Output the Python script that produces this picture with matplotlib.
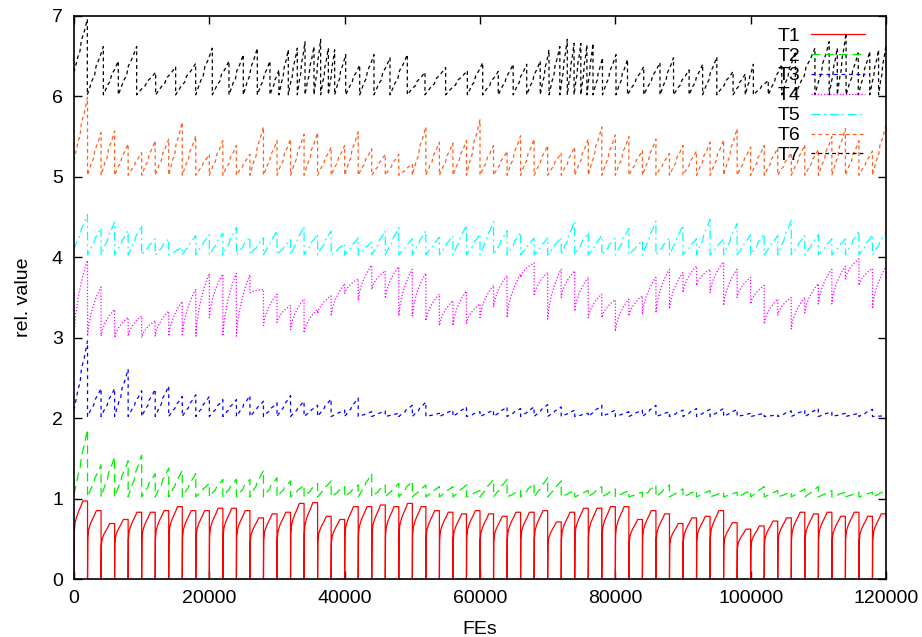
import numpy as np
import matplotlib
matplotlib.use('Agg')
import matplotlib.pyplot as plt

# restart points (FEs): T1..T6 restart every 2000 FEs
ends_2k = [2000 * k for k in range(1, 61)]

# T7 restarts are irregular (in 1000 FEs)
t7_ends_k = [1.97, 4.34, 6.55, 9.26, 12.07, 15.02, 17.98, 20.44, 22.9, 25.02,
             27.09, 28.96, 30.29, 31.67, 33.0, 34.14, 35.47, 36.45, 37.59, 38.52,
             40.15, 42.22, 44.33, 46.7, 49.26, 51.87, 54.92, 58.13, 60.4, 62.7,
             64.9, 66.9, 68.9, 70.2, 71.8, 72.9, 73.9, 74.9, 75.8, 76.7,
             78.1, 80.1, 81.8, 84.2, 86.6, 88.6, 90.9, 92.9, 95.0, 97.4,
             99.2, 100.4, 102.6, 104.6, 106.6, 109.5, 111.6, 112.8, 114.1, 115.9,
             117.6, 118.9, 120.0]

# peak value reached in each cycle
t1_peaks = [0.97, 0.85, 0.69, 0.74, 0.83, 0.83, 0.85, 0.9, 0.85,
            0.85, 0.88, 0.88, 0.85, 0.76, 0.81, 0.83, 0.94, 0.95, 0.78,
            0.74, 0.9, 0.9, 0.92, 0.9, 0.94, 0.9, 0.85, 0.83, 0.81,
            0.85, 0.81, 0.78, 0.83, 0.83, 0.85, 0.71, 0.83, 0.88, 0.88,
            0.9, 0.9, 0.74, 0.85, 0.81, 0.69, 0.76, 0.78, 0.85, 0.7,
            0.62, 0.66, 0.72, 0.76, 0.83, 0.81, 0.83, 0.78, 0.83, 0.78, 0.81]
t2_peaks = [1.86, 1.42, 1.52, 1.47, 1.54, 1.31, 1.38, 1.35, 1.31,
            1.19, 1.24, 1.24, 1.24, 1.35, 1.26, 1.22, 1.17, 1.19, 1.22,
            1.15, 1.17, 1.31, 1.17, 1.19, 1.22, 1.17, 1.15, 1.15, 1.17,
            1.1, 1.24, 1.24, 1.1, 1.19, 1.26, 1.22, 1.1, 1.1, 1.15,
            1.12, 1.1, 1.08, 1.17, 1.17, 1.12, 1.1, 1.1, 1.08, 1.08,
            1.1, 1.15, 1.1, 1.08, 1.12, 1.15, 1.1, 1.08, 1.08, 1.08, 1.1]
t3_peaks = [2.96, 2.37, 2.37, 2.61, 2.34, 2.36, 2.4, 2.27, 2.29, 2.27,
            2.23, 2.23, 2.28, 2.21, 2.19, 2.28, 2.21, 2.16, 2.24, 2.1,
            2.25, 2.08, 2.09, 2.06, 2.16, 2.2, 2.06, 2.1, 2.14, 2.08,
            2.1, 2.14, 2.12, 2.14, 2.17, 2.14, 2.1, 2.06, 2.16, 2.1,
            2.08, 2.1, 2.16, 2.08, 2.1, 2.12, 2.11, 2.12, 2.11, 2.06,
            2.06, 2.04, 2.09, 2.1, 2.12, 2.08, 2.06, 2.06, 2.11, 2.03]
t4_peaks = [3.96, 3.63, 3.35, 3.25, 3.27, 3.21, 3.33, 3.45, 3.6, 3.8,
            3.79, 3.8, 3.78, 3.6, 3.54, 3.4, 3.48, 3.35, 3.52, 3.67,
            3.73, 3.9, 3.83, 3.88, 3.85, 3.8, 3.54, 3.46, 3.58, 3.42,
            3.65, 3.77, 3.79, 3.93, 3.81, 3.85, 3.83, 3.75, 3.54, 3.47,
            3.48, 3.52, 3.75, 3.85, 3.81, 3.89, 3.85, 3.94, 3.85, 3.75,
            3.65, 3.48, 3.5, 3.5, 3.67, 3.85, 3.89, 3.98, 3.86, 3.88]
t4_lows = [3.02, 3.02, 3.02, 3.0, 3.02, 3.0, 3.02, 3.02, 3.02, 3.02,
           3.25, 3.02, 3.02, 3.56, 3.15, 3.19, 3.1, 3.06, 3.3, 3.27,
           3.55, 3.46, 3.6, 3.49, 3.27, 3.27, 3.21, 3.15, 3.15, 3.18,
           3.25, 3.38, 3.25, 3.75, 3.52, 3.23, 3.5, 3.33, 3.25, 3.25,
           3.08, 3.27, 3.29, 3.31, 3.36, 3.56, 3.65, 3.56, 3.4, 3.5,
           3.42, 3.17, 3.28, 3.11, 3.31, 3.42, 3.42, 3.73, 3.65, 3.36]
t5_peaks = [4.53, 4.37, 4.44, 4.33, 4.4, 4.23, 4.23, 4.12, 4.27, 4.28,
            4.3, 4.37, 4.25, 4.24, 4.33, 4.22, 4.39, 4.29, 4.33, 4.17,
            4.24, 4.19, 4.33, 4.37, 4.23, 4.33, 4.25, 4.27, 4.4, 4.29,
            4.44, 4.33, 4.31, 4.24, 4.24, 4.25, 4.45, 4.31, 4.27, 4.24,
            4.36, 4.21, 4.45, 4.24, 4.4, 4.23, 4.47, 4.23, 4.42, 4.28,
            4.29, 4.27, 4.46, 4.27, 4.28, 4.23, 4.23, 4.33, 4.28, 4.31]
t6_peaks = [5.99, 5.55, 5.57, 5.41, 5.3, 5.45, 5.47, 5.68, 5.51, 5.28,
            5.45, 5.39, 5.28, 5.62, 5.45, 5.47, 5.53, 5.55, 5.37, 5.39,
            5.56, 5.35, 5.28, 5.28, 5.16, 5.62, 5.43, 5.42, 5.45, 5.71,
            5.39, 5.32, 5.51, 5.47, 5.39, 5.3, 5.37, 5.47, 5.62, 5.52,
            5.5, 5.33, 5.47, 5.29, 5.39, 5.32, 5.43, 5.46, 5.6, 5.37,
            5.39, 5.36, 5.3, 5.4, 5.34, 5.5, 5.6, 5.45, 5.32, 5.64]
t7_peaks = [6.96, 6.62, 6.44, 6.62, 6.3, 6.37, 6.41, 6.6, 6.44, 6.52,
            6.6, 6.44, 6.33, 6.58, 6.6, 6.68, 6.62, 6.71, 6.6, 6.58,
            6.52, 6.39, 6.52, 6.48, 6.52, 6.3, 6.36, 6.32, 6.42, 6.31,
            6.4, 6.4, 6.44, 6.58, 6.62, 6.71, 6.66, 6.66, 6.64, 6.66,
            6.48, 6.52, 6.46, 6.37, 6.42, 6.48, 6.33, 6.4, 6.49, 6.31,
            6.28, 6.4, 6.2, 6.4, 6.56, 6.6, 6.68, 6.6, 6.79, 6.54,
            6.56, 6.58, 6.64]

# value each curve starts from: first cycle, then after every restart
start_vals = {'T1': (0.0, 0.0), 'T2': (1.05, 1.02), 'T3': (2.1, 2.02),
              'T5': (4.1, 4.03), 'T6': (5.2, 5.02), 'T7': (6.3, 6.02)}

# shape of the rise inside one cycle (fraction of cycle, fraction of rise)
steep_fx = [0, 0.02, 0.08, 0.2, 0.35, 0.5, 0.65, 1.0]
steep_fy = [0, 0.6, 0.72, 0.8, 0.87, 0.93, 1.0, 1.0]
curve_fx = [0, 0.1, 0.3, 0.5, 0.7, 0.9, 1.0]
curve_fy = [0, 0.25, 0.5, 0.68, 0.83, 0.95, 1.0]
ramp_fx = [0, 0.1, 0.3, 0.45, 0.55, 0.75, 0.9, 1.0]
ramp_fy = [0, 0.1, 0.3, 0.4, 0.6, 0.75, 0.9, 1.0]


def build(ends, peaks, lows, fx, fy):
    xs, ys = [], []
    start = 0
    for end, pk, lo in zip(ends, peaks, lows):
        for a, b in zip(fx, fy):
            xs.append(start + a * (end - start))
            ys.append(lo + b * (pk - lo))
        start = end
    return xs, ys


def lows_for(name, n):
    first, base = start_vals[name]
    return [first] + [base] * (n - 1)


t7_ends = [v * 1000 for v in t7_ends_k]

series = [
    ('T1', build(ends_2k, t1_peaks, lows_for('T1', 60), steep_fx, steep_fy), '#ff0000', '-'),
    ('T2', build(ends_2k, t2_peaks, lows_for('T2', 60), ramp_fx, ramp_fy), '#00ee00', (0, (7, 4))),
    ('T3', build(ends_2k, t3_peaks, lows_for('T3', 60), ramp_fx, ramp_fy), '#0000ff', (0, (3, 3))),
    ('T4', build(ends_2k, t4_peaks, t4_lows, curve_fx, curve_fy), '#ff00ff', (0, (1, 1.5))),
    ('T5', build(ends_2k, t5_peaks, lows_for('T5', 60), ramp_fx, ramp_fy), '#00ffff', (0, (7, 3, 1.5, 3))),
    ('T6', build(ends_2k, t6_peaks, lows_for('T6', 60), ramp_fx, ramp_fy), '#ff5f1f', (0, (3, 2.5))),
    ('T7', build(t7_ends, t7_peaks, lows_for('T7', len(t7_peaks)), ramp_fx, ramp_fy), '#000000', (0, (3, 2.5))),
]

plt.rcParams['font.family'] = ['Liberation Sans', 'DejaVu Sans']

fig = plt.figure(figsize=(9.22, 6.37), dpi=100)
ax = fig.add_axes([74 / 922, 1 - 579 / 637, 812 / 922, 563 / 637])

for name, (xs, ys), col, ls in series:
    ax.plot(xs, ys, color=col, linestyle=ls, linewidth=0.9, label=name)

ax.set_xlim(0, 120000)
ax.set_ylim(0, 7)
ax.set_xticks([0, 20000, 40000, 60000, 80000, 100000, 120000])
ax.set_yticks([0, 1, 2, 3, 4, 5, 6, 7])
ax.tick_params(direction='in', length=6, width=1, top=True, right=True,
               labelsize=14, pad=8)
for sp in ax.spines.values():
    sp.set_linewidth(1.2)

ax.set_xlabel('FEs', fontsize=14, labelpad=10)
ax.set_ylabel('rel. value', fontsize=14, labelpad=14)

leg = ax.legend(loc='upper right', bbox_to_anchor=(865 / 922, 1 - 27 / 637),
                bbox_transform=fig.transFigure, frameon=False, markerfirst=False,
                fontsize=14, handlelength=2.8, handletextpad=0.5,
                labelspacing=0.12, borderpad=0, borderaxespad=0)
for t in leg.get_texts():
    t.set_ha('right')

fig.savefig('out.png', dpi=100)
